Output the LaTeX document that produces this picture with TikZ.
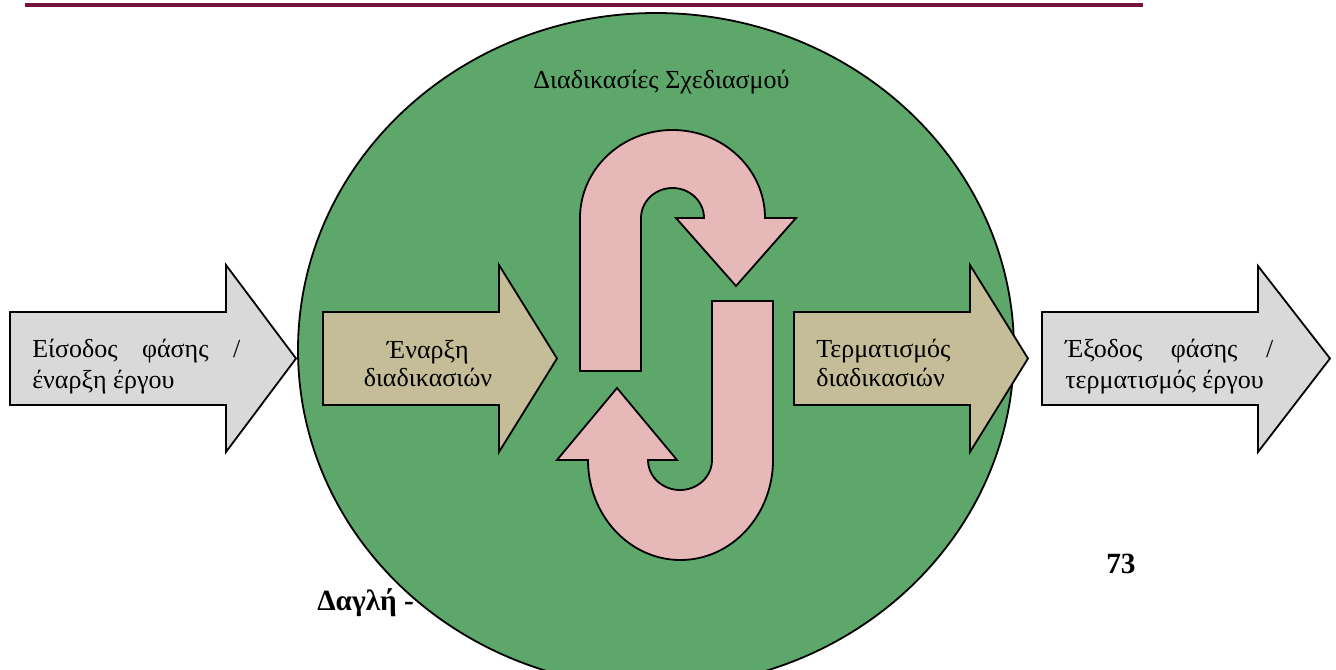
\documentclass[tikz,border=0pt]{standalone}
\usepackage{fontspec}
\setmainfont{Liberation Serif}
\definecolor{maroonline}{RGB}{118,18,62}
\definecolor{grn}{RGB}{94,167,106}
\definecolor{pinkf}{RGB}{230,184,183}
\definecolor{beigef}{RGB}{196,189,151}
\definecolor{lgray}{RGB}{217,217,217}
\tikzset{
  outl/.style={draw=black, line width=1.35pt, line join=miter},
  txt/.style={font=\fontsize{19.5}{23}\selectfont, inner sep=0pt, text=black},
  boldtxt/.style={font=\fontsize{22}{26}\selectfont\bfseries, inner sep=0pt, text=black},
}
\begin{document}
\begin{tikzpicture}[x=0.75pt,y=-0.75pt]
\useasboundingbox (0,0) rectangle (1336,670);
\clip (0,0) rectangle (1336,670);
% header rule
\draw[maroonline, line width=2.8pt] (25,5) -- (1143,5);
% footer text partly hidden by the ellipse
\node[boldtxt, anchor=base west] (author) at (317,610) {Δαγλή -};
\node[boldtxt, anchor=base west] (page) at (1106,573) {73};
% big ellipse
\draw[outl, fill=grn] (656,350) ellipse [x radius=358, y radius=337];
\node[txt, anchor=base] (title) at (661.5,89) {Διαδικασίες Σχεδιασμού};
% gray input arrow
\draw[outl, fill=lgray] (10,312) -- (226,312) -- (226,265) -- (296,358.5) -- (226,452) -- (226,405) -- (10,405) -- cycle;
\node[txt, anchor=base west] (in1) at (32,358) {\makebox[156pt][s]{Είσοδος φάσης /}};
\node[txt, anchor=base west] (in2) at (32,388) {έναρξη έργου};
% beige start arrow
\draw[outl, fill=beigef] (323,312) -- (499,312) -- (499,265) -- (557,358.5) -- (499,452) -- (499,405) -- (323,405) -- cycle;
\node[txt, anchor=base] (st1) at (428,359) {Έναρξη};
\node[txt, anchor=base] (st2) at (428,387) {διαδικασιών};
% beige end arrow
\draw[outl, fill=beigef] (794,312) -- (970,312) -- (970,265) -- (1028,358.5) -- (970,452) -- (970,405) -- (794,405) -- cycle;
\node[txt, anchor=base west] (en1) at (816,358) {Τερματισμός};
\node[txt, anchor=base west] (en2) at (816,387) {διαδικασιών};
% gray output arrow
\draw[outl, fill=lgray] (1042,312) -- (1258,312) -- (1258,266) -- (1330,358.5) -- (1258,452) -- (1258,405) -- (1042,405) -- cycle;
\node[txt, anchor=base west] (out1) at (1065,358) {\makebox[156pt][s]{Έξοδος φάσης /}};
\node[txt, anchor=base west] (out2) at (1065,388) {τερματισμός έργου};
% upper U-turn arrow
\draw[outl, fill=pinkf] (580,371) -- (580,218)
  arc[start angle=180, end angle=360, x radius=92.5, y radius=88]
  -- (796,218) -- (736,286) -- (676,218) -- (704,218)
  arc[start angle=360, end angle=180, x radius=31.5, y radius=30]
  -- (641,371) -- cycle;
% lower U-turn arrow
\draw[outl, fill=pinkf] (773,301) -- (773,460)
  arc[start angle=0, end angle=180, x radius=92.5, y radius=100]
  -- (557,460) -- (617,388) -- (677,460) -- (648,460)
  arc[start angle=180, end angle=0, x radius=32, y radius=30]
  -- (712,301) -- cycle;
\end{tikzpicture}
\end{document}
